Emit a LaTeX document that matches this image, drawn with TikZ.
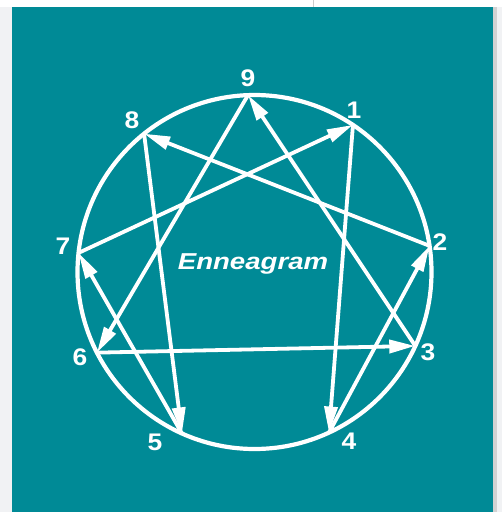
\documentclass[tikz,border=0pt]{standalone}
\usepackage{fontspec}
\setmainfont{Liberation Sans}
\usetikzlibrary{arrows.meta}
\definecolor{teal1}{RGB}{0,138,150}
\definecolor{pagegray}{RGB}{241,242,244}
\begin{document}
\begin{tikzpicture}[x=1pt,y=-1pt,
  ring/.style={draw=white,line width=4.2pt},
  link/.style={draw=white,line width=3.8pt,-{Triangle[length=26pt,width=13pt]}},
  num/.style={text=white,font=\fontsize{24}{24}\selectfont\bfseries,inner sep=0pt,xscale=1.1}]
\useasboundingbox (0,0) rectangle (502,512);
\fill[pagegray] (0,0) rectangle (502,512);
\fill[white] (0,0) rectangle (502,7);
\fill[gray!40] (312.5,0) rectangle (314,7);
\fill[gray!35] (493,7) rectangle (497,512);
\fill[teal1] (12,7) rectangle (493,512);
% circle
\coordinate (c) at (254.5,272);
\draw[ring] (c) circle[radius=177pt];
% points
\coordinate (p9) at ([shift={(92.1:177pt)}]c);
\coordinate (p1) at ([shift={(56.2:177pt)}]c);
\coordinate (p2) at ([shift={(8.5:177pt)}]c);
\coordinate (p3) at ([shift={(-24.7:177pt)}]c);
\coordinate (p4) at ([shift={(-65.1:177pt)}]c);
\coordinate (p5) at ([shift={(-114.2:177pt)}]c);
\coordinate (p6) at ([shift={(-152.9:177pt)}]c);
\coordinate (p7) at ([shift={(173.8:177pt)}]c);
\coordinate (p8) at ([shift={(128.6:177pt)}]c);
% connectors
\draw[link] (p1) -- (p4);
\draw[link] (p4) -- (p2);
\draw[link] (p2) -- (p8);
\draw[link] (p8) -- (p5);
\draw[link] (p5) -- (p7);
\draw[link] (p7) -- (p1);
\draw[link] (p9) -- (p6);
\draw[link] (p6) -- (p3);
\draw[link] (p3) -- (p9);
% labels
\node[num] (l9) at (248,78) {9};
\node[num] (l1) at (354,110) {1};
\node[num] (l2) at (440,242) {2};
\node[num] (l3) at (428,352) {3};
\node[num] (l4) at (349,441) {4};
\node[num] (l5) at (155,442) {5};
\node[num] (l6) at (80,357) {6};
\node[num] (l7) at (63,246) {7};
\node[num] (l8) at (132,120) {8};
\node[text=white,font=\fontsize{23}{23}\selectfont\bfseries\itshape,inner sep=0pt,xscale=1.2] (title) at (253,264) {Enneagram};
\end{tikzpicture}
\end{document}
